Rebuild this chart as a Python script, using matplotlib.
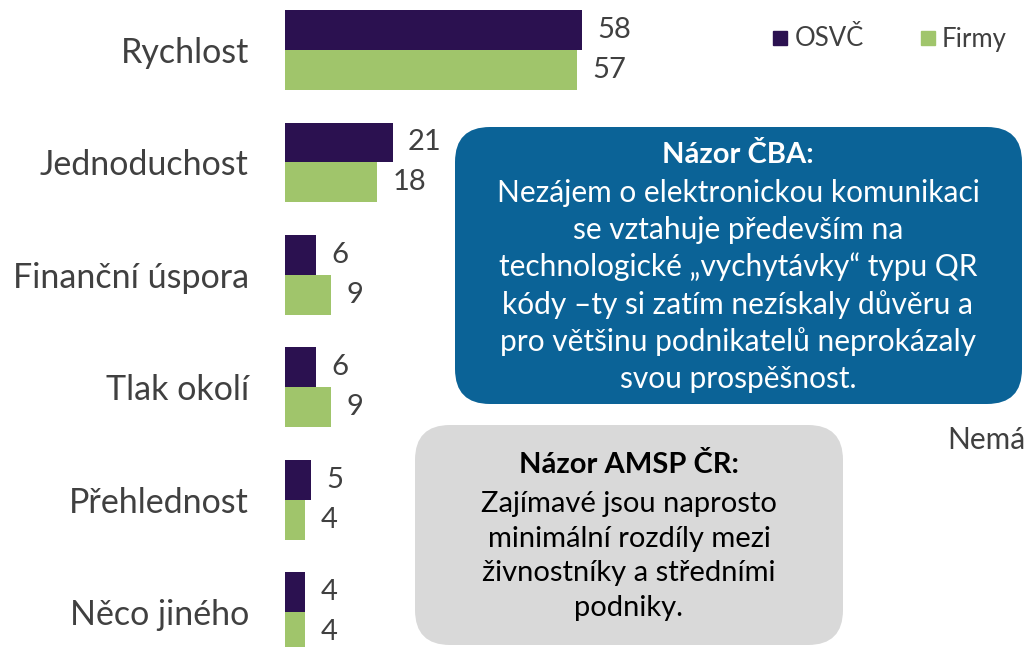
import matplotlib.pyplot as plt
from matplotlib.patches import FancyBboxPatch
from matplotlib.lines import Line2D

plt.rcParams["font.family"] = ["Lato", "DejaVu Sans"]

kategorie = ["Rychlost", "Jednoduchost", "Finanční úspora", "Tlak okolí", "Přehlednost", "Něco jiného"]
osvc = [58, 21, 6, 6, 5, 4]
firmy = [57, 18, 9, 9, 4, 4]

barva_osvc = "#2B1150"
barva_firmy = "#A0C56B"
barva_text = "#404040"

W, H = 1025, 647
fig = plt.figure(figsize=(W / 100, H / 100), dpi=100)

# osa zacina na x=285 px a jde az za pravy okraj
ax = fig.add_axes([285 / W, 0, 1 - 285 / W, 1])
ax.set_xlim(0, (W - 285) / 5.12)
ax.set_ylim(5.311, -0.445)

y = list(range(len(kategorie)))
h = 0.355
ax.barh([i - h / 2 for i in y], osvc, height=h, color=barva_osvc, label="OSVČ")
ax.barh([i + h / 2 for i in y], firmy, height=h, color=barva_firmy, label="Firmy")

for i in y:
    ax.annotate(str(osvc[i]), (osvc[i], i - h / 2), xytext=(11, 0), textcoords="offset points",
                va="center", ha="left", fontsize=21, color=barva_text)
    ax.annotate(str(firmy[i]), (firmy[i], i + h / 2), xytext=(11, 0), textcoords="offset points",
                va="center", ha="left", fontsize=21, color=barva_text)

ax.set_yticks(y)
ax.set_yticklabels(kategorie, fontsize=24.5, color=barva_text)
ax.tick_params(axis="y", length=0, pad=26)
ax.set_xticks([])
for s in ax.spines.values():
    s.set_visible(False)

# legenda
handles = [Line2D([], [], marker="s", ls="", markersize=9.5, color=barva_osvc),
           Line2D([], [], marker="s", ls="", markersize=9.5, color=barva_firmy)]
fig.legend(handles, ["OSVČ", "Firmy"], loc="center left", bbox_to_anchor=(757 / W, 1 - 39 / H),
           ncol=2, frameon=False, fontsize=18.5, handlelength=0.8, handletextpad=0.15,
           columnspacing=2.1, labelcolor=barva_text, borderpad=0)

tr = fig.dpi_scale_trans


def box(x0, y0, x1, y1, barva):
    p = FancyBboxPatch((x0 / 100, (H - y1) / 100), (x1 - x0) / 100, (y1 - y0) / 100,
                       boxstyle="round,pad=0,rounding_size=0.35", transform=tr,
                       facecolor=barva, edgecolor="none", zorder=5)
    fig.patches.append(p)


box(455, 127, 1022, 404, "#0B6397")
fig.text(738 / 100, (H - 155) / 100, "Názor ČBA:", transform=tr, ha="center", va="center",
         fontsize=21, fontweight="bold", color="white", zorder=6)
fig.text(738 / 100, (H - 286) / 100,
         "Nezájem o elektronickou komunikaci\nse vztahuje především na\n"
         "technologické „vychytávky“ typu QR\nkódy –ty si zatím nezískaly důvěru a\n"
         "pro většinu podnikatelů neprokázaly\nsvou prospěšnost.",
         transform=tr, ha="center", va="center", fontsize=21.5, color="white",
         linespacing=1.36, zorder=6)

box(415, 425, 843, 645, "#D9D9D9")
fig.text(629 / 100, (H - 465) / 100, "Názor AMSP ČR:", transform=tr, ha="center", va="center",
         fontsize=21, fontweight="bold", color="black", zorder=6)
fig.text(629 / 100, (H - 556) / 100,
         "Zajímavé jsou naprosto\nminimální rozdíly mezi\nživnostníky a středními\npodniky.",
         transform=tr, ha="center", va="center", fontsize=21, color="black",
         linespacing=1.42, zorder=6)

fig.text(947 / 100, (H - 440) / 100, "Nemá", transform=tr, ha="left", va="center",
         fontsize=21.5, color=barva_text)

fig.savefig("out.png", dpi=100)
